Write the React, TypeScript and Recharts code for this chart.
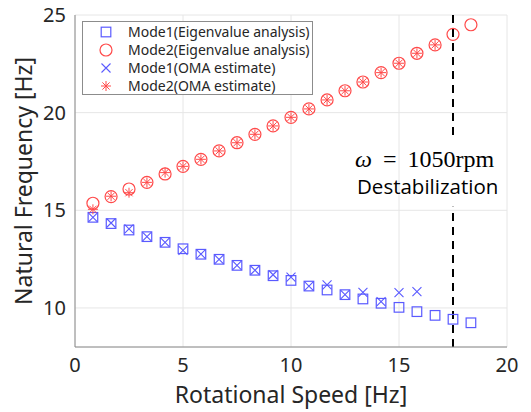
import React from "react";
import {
  ScatterChart,
  Scatter,
  XAxis,
  YAxis,
  CartesianGrid,
  ReferenceLine,
} from "recharts";

const speeds = [
  0.83, 1.67, 2.5, 3.33, 4.17, 5.0, 5.83, 6.67, 7.5, 8.33, 9.17, 10.0, 10.83,
  11.67, 12.5, 13.33, 14.17, 15.0, 15.83, 16.67, 17.5, 18.33,
];
const mode1Eig = [
  14.64, 14.32, 13.99, 13.65, 13.36, 13.03, 12.75, 12.49, 12.18, 11.93, 11.65,
  11.41, 11.12, 10.92, 10.68, 10.46, 10.24, 10.03, 9.81, 9.62, 9.42, 9.24,
];
const mode2Eig = [
  15.36, 15.7, 16.09, 16.43, 16.86, 17.25, 17.61, 18.04, 18.46, 18.89, 19.32,
  19.76, 20.19, 20.65, 21.12, 21.57, 22.05, 22.53, 23.04, 23.47, 24.01, 24.5,
];
const mode1Oma = [
  14.64, 14.35, 14.05, 13.65, 13.36, 12.95, 12.76, 12.49, 12.18, 11.93, 11.7,
  11.58, 11.12, 11.18, 10.68, 10.8, 10.32, 10.78, 10.84,
];
const mode2Oma = [
  15.05, 15.72, 15.9, 16.43, 16.93, 17.25, 17.61, 18.04, 18.46, 18.89, 19.32,
  19.76, 20.19, 20.65, 21.12, 21.57, 22.05, 22.53, 23.04, 23.47,
];
const xTicks = [0, 5, 10, 15, 20];
const yTicks = [10, 15, 20, 25];
const legendLabels = [
  "Mode1(Eigenvalue analysis)",
  "Mode2(Eigenvalue analysis)",
  "Mode1(OMA estimate)",
  "Mode2(OMA estimate)",
];

const BLUE = "#5a5aff";
const RED = "#ff4a4a";
const TEXT = "#262626";
const FONT = "'Noto Sans', 'DejaVu Sans', sans-serif";

const toPoints = (vals: number[]) =>
  vals.map((v, i) => ({ x: speeds[i], y: v }));

const SquareMark = (p: any) => (
  <rect
    x={p.cx - 4.8}
    y={p.cy - 4.8}
    width={9.6}
    height={9.6}
    fill="none"
    stroke={BLUE}
    strokeWidth={1.2}
  />
);
const CircleMark = (p: any) => (
  <circle cx={p.cx} cy={p.cy} r={6} fill="none" stroke={RED} strokeWidth={1.2} />
);
const CrossMark = (p: any) => (
  <path
    d={`M${p.cx - 4.5},${p.cy - 4.5}L${p.cx + 4.5},${p.cy + 4.5}M${p.cx - 4.5},${p.cy + 4.5}L${p.cx + 4.5},${p.cy - 4.5}`}
    stroke={BLUE}
    strokeWidth={1.1}
    fill="none"
  />
);
const StarMark = (p: any) => (
  <path
    d={`M${p.cx},${p.cy - 5}L${p.cx},${p.cy + 5}M${p.cx - 5},${p.cy}L${p.cx + 5},${p.cy}M${p.cx - 3.6},${p.cy - 3.6}L${p.cx + 3.6},${p.cy + 3.6}M${p.cx - 3.6},${p.cy + 3.6}L${p.cx + 3.6},${p.cy - 3.6}`}
    stroke={RED}
    strokeWidth={1}
    fill="none"
  />
);

const markers = [SquareMark, CircleMark, CrossMark, StarMark];
const legendRowY = [32, 50, 68, 86];

export default function App() {
  return (
    <div
      style={{
        position: "absolute",
        left: 0,
        top: 0,
        width: 531,
        height: 412,
        background: "#fff",
      }}
    >
      <ScatterChart
        width={531}
        height={412}
        margin={{ top: 15, right: 24, bottom: 0, left: 0 }}
      >
        <CartesianGrid stroke="#e6e6e6" strokeWidth={1} />
        <XAxis
          type="number"
          dataKey="x"
          domain={[0, 20]}
          ticks={xTicks}
          height={65}
          tickSize={0}
          tickMargin={11}
          axisLine={{ stroke: "#8a8a8a" }}
          tick={{ fill: TEXT, fontSize: 20, fontFamily: FONT }}
          label={{
            value: "Rotational Speed [Hz]",
            position: "insideBottom",
            offset: 9,
            fill: TEXT,
            fontSize: 23,
            fontFamily: FONT,
          }}
        />
        <YAxis
          type="number"
          dataKey="y"
          domain={[8, 25]}
          ticks={yTicks}
          width={75}
          tickSize={0}
          tickMargin={9}
          axisLine={{ stroke: "#8a8a8a" }}
          tick={{ fill: TEXT, fontSize: 20, fontFamily: FONT }}
          label={{
            value: "Natural Frequency [Hz]",
            angle: -90,
            position: "insideLeft",
            offset: 24,
            style: { textAnchor: "middle" },
            fill: TEXT,
            fontSize: 23,
            fontFamily: FONT,
          }}
        />
        <ReferenceLine
          segment={[
            { x: 17.5, y: 8 },
            { x: 17.5, y: 15.18 },
          ]}
          stroke="#000"
          strokeWidth={2}
          strokeDasharray="8 6"
        />
        <ReferenceLine
          segment={[
            { x: 17.5, y: 18.86 },
            { x: 17.5, y: 25 },
          ]}
          stroke="#000"
          strokeWidth={2}
          strokeDasharray="8 6"
        />
        <Scatter
          name={legendLabels[0]}
          data={toPoints(mode1Eig)}
          shape={SquareMark}
          isAnimationActive={false}
        />
        <Scatter
          name={legendLabels[1]}
          data={toPoints(mode2Eig)}
          shape={CircleMark}
          isAnimationActive={false}
        />
        <Scatter
          name={legendLabels[2]}
          data={toPoints(mode1Oma)}
          shape={CrossMark}
          isAnimationActive={false}
        />
        <Scatter
          name={legendLabels[3]}
          data={toPoints(mode2Oma)}
          shape={StarMark}
          isAnimationActive={false}
        />
      </ScatterChart>
      <svg
        width={531}
        height={412}
        style={{ position: "absolute", left: 0, top: 0, pointerEvents: "none" }}
      >
        <rect
          x={82.5}
          y={21.5}
          width={230}
          height={73}
          fill="#fff"
          stroke="#8c8c8c"
          strokeWidth={1}
        />
        {legendLabels.map((lab, i) => {
          const M = markers[i];
          return (
            <g key={lab}>
              <M cx={106} cy={legendRowY[i]} />
              <text
                x={128}
                y={legendRowY[i] + 5}
                fontFamily={FONT}
                fontSize={14}
                fill={TEXT}
              >
                {lab}
              </text>
            </g>
          );
        })}
        <text
          x={355}
          y={167}
          fontFamily="'Liberation Serif', serif"
          fontSize={24}
          fill="#000"
        >
          <tspan fontStyle="italic">ω</tspan>
          <tspan dx={11}>=</tspan>
          <tspan dx={11}>1050rpm</tspan>
        </text>
        <text
          x={357}
          y={194}
          fontFamily="'Open Sans', sans-serif"
          fontSize={20.5}
          fill="#000"
        >
          Destabilization
        </text>
      </svg>
    </div>
  );
}
